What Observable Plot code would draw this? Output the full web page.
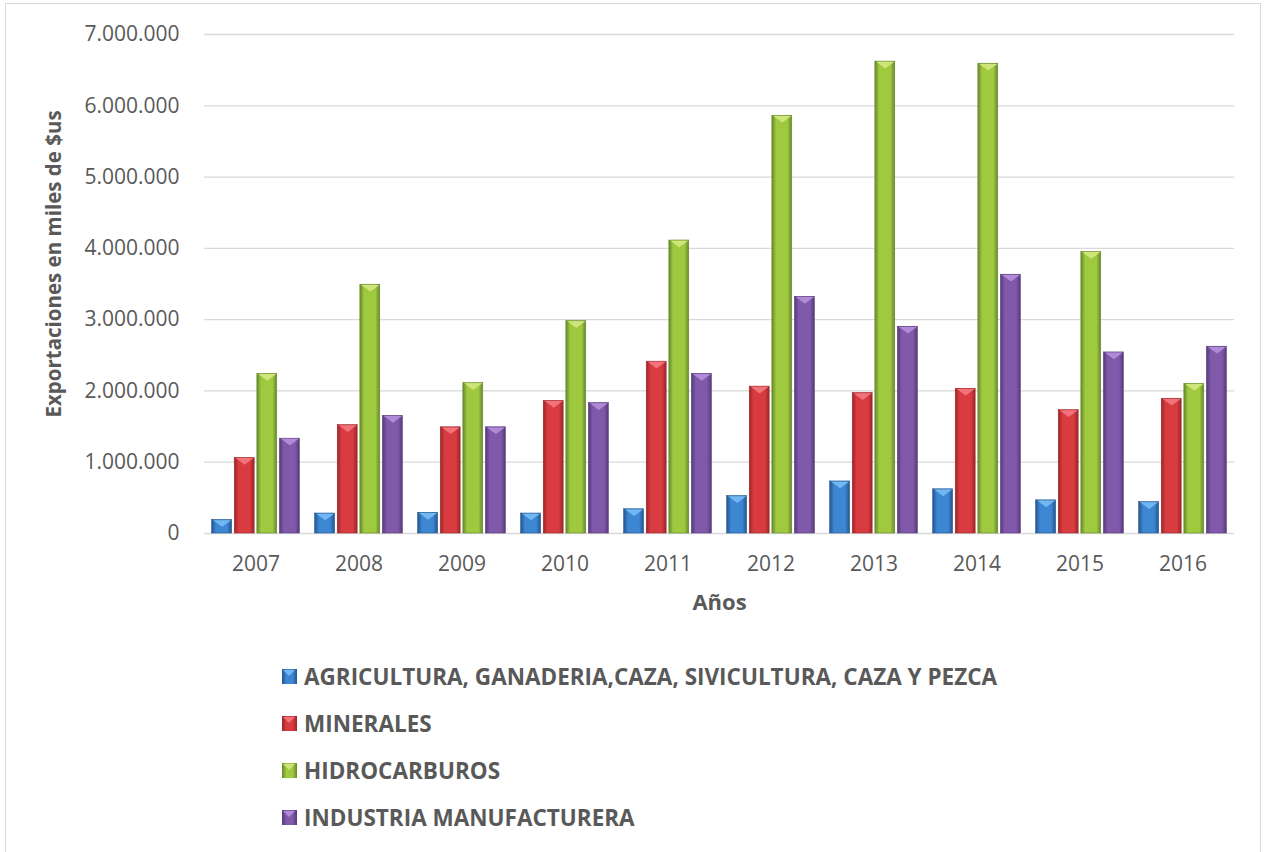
<!DOCTYPE html>
<html>
<head>
<meta charset="utf-8">
<script src="https://cdn.jsdelivr.net/npm/d3@7"></script>
<script src="https://cdn.jsdelivr.net/npm/@observablehq/plot@0.6"></script>
<style>
  body { margin: 0; background: #fff; font-family: "Open Sans", sans-serif; }
  #wrap { position: relative; width: 1267px; height: 852px; overflow: hidden; background: #fff; }
  #frame { position: absolute; left: 5px; top: 3px; width: 1256px; height: 900px; border: 1px solid #d9d9d9; box-sizing: border-box; }
  #chart { position: absolute; left: 0; top: 0; }
  #ytitle { position: absolute; left: 53px; top: 263.5px; transform: translate(-50%, -50%) rotate(-90deg);
            white-space: nowrap; font-weight: bold; font-size: 20.5px; color: #595959; }
  #legend { position: absolute; left: 282px; top: 653px; }
  .row { height: 47px; display: flex; align-items: center; font-weight: bold; font-size: 22.5px; color: #595959; white-space: nowrap; }
  .sw { width: 15px; height: 15px; margin-right: 7px; position: relative; box-sizing: border-box; flex: none; }
  .sw::after { content: ""; position: absolute; left: 1px; top: 1px; width: 0; height: 0;
               border-left: 6.5px solid transparent; border-right: 6.5px solid transparent; border-top: 6px solid var(--tri); }
  svg g[aria-label="fx-axis label"] text { font-weight: bold; font-size: 22px; }
</style>
</head>
<body>
<div id="wrap">
  <div id="frame"></div>
  <div id="chart"></div>
  <div id="ytitle"></div>
  <div id="legend"></div>
</div>
<script>
// ---- data ----
const years = ["2007", "2008", "2009", "2010", "2011", "2012", "2013", "2014", "2015", "2016"];
const series = [
  "AGRICULTURA, GANADERIA,CAZA, SIVICULTURA, CAZA Y PEZCA",
  "MINERALES",
  "HIDROCARBUROS",
  "INDUSTRIA MANUFACTURERA"
];
const agricultura   = [190000, 280000, 290000, 280000, 340000, 525000, 730000, 620000, 465000, 440000];
const minerales     = [1060000, 1520000, 1490000, 1860000, 2410000, 2060000, 1970000, 2030000, 1730000, 1890000];
const hidrocarburos = [2240000, 3490000, 2110000, 2980000, 4110000, 5860000, 6620000, 6590000, 3950000, 2100000];
const industria     = [1330000, 1650000, 1490000, 1830000, 2240000, 3320000, 2900000, 3630000, 2540000, 2620000];
const yTicks = [0, 1000000, 2000000, 3000000, 4000000, 5000000, 6000000, 7000000];
const yTitle = "Exportaciones en miles de $us";
const xTitle = "Años";

// ---- styles ----
const edge  = ["#23558f", "#9a2528", "#66882b", "#553a78"];
const mid   = ["#3d86d2", "#d93c40", "#9fca40", "#8159ab"];
const light = ["#72b6f2", "#f2727a", "#cfe47a", "#b08ad6"];

const values = [agricultura, minerales, hidrocarburos, industria];
const table = years.flatMap((yr, i) => series.map((s, j) => ({year: yr, series: s, value: values[j][i]})));

const fmt = d3.formatLocale({decimal: ",", thousands: ".", grouping: [3], currency: ["$", ""]}).format(",d");

const bevel = {
  draw(context, size) {
    const r = Math.sqrt(size / Math.PI);
    const h = r * 0.74;
    context.moveTo(-r, -h / 2);
    context.lineTo(r, -h / 2);
    context.lineTo(0, h / 2);
    context.closePath();
  }
};

const marks = [
  Plot.gridY(yTicks, {stroke: "#d9d9d9", strokeOpacity: 1, strokeWidth: 1.3}),
  Plot.axisY(yTicks, {tickSize: 0, tickPadding: 25, tickFormat: fmt, label: null}),
  Plot.axisFx({anchor: "bottom", tickSize: 0, tickPadding: 23, label: xTitle, labelAnchor: "center", labelOffset: 76})
];
series.forEach((s, j) => {
  const d = table.filter(r => r.series === s);
  marks.push(Plot.barY(d, {fx: "year", x: "series", y: "value", fill: `url(#grad${j})`, stroke: edge[j], strokeWidth: 0.6}));
  marks.push(Plot.dot(d, {fx: "year", x: "series", y: "value", symbol: bevel, r: 9, fill: light[j], stroke: "none", dy: 3.5}));
});

const chart = Plot.plot({
  width: 1267,
  height: 625,
  marginLeft: 200,
  marginRight: 30,
  marginTop: 34,
  marginBottom: 92,
  style: {fontFamily: "'Open Sans', sans-serif", fontSize: "21px", color: "#595959", background: "transparent"},
  fx: {domain: years, padding: 0, label: xTitle},
  x: {domain: series, paddingInner: 0.12, paddingOuter: 0.34, axis: null, round: false},
  y: {domain: [0, 7000000], ticks: yTicks, label: null},
  marks
});

const svg = d3.select(chart);
const defs = svg.insert("defs", ":first-child");
[0, 1, 2, 3].forEach(j => {
  const lg = defs.append("linearGradient").attr("id", `grad${j}`).attr("x1", 0).attr("x2", 1).attr("y1", 0).attr("y2", 0);
  lg.append("stop").attr("offset", "0%").attr("stop-color", edge[j]);
  lg.append("stop").attr("offset", "22%").attr("stop-color", mid[j]);
  lg.append("stop").attr("offset", "50%").attr("stop-color", mid[j]);
  lg.append("stop").attr("offset", "78%").attr("stop-color", mid[j]);
  lg.append("stop").attr("offset", "100%").attr("stop-color", edge[j]);
});
document.getElementById("chart").appendChild(chart);

document.getElementById("ytitle").textContent = yTitle;

const legend = document.getElementById("legend");
series.forEach((s, j) => {
  const row = document.createElement("div");
  row.className = "row";
  const sw = document.createElement("span");
  sw.className = "sw";
  sw.style.background = `linear-gradient(to right, ${edge[j]}, ${mid[j]} 30%, ${mid[j]} 70%, ${edge[j]})`;
  sw.style.setProperty("--tri", light[j]);
  const t = document.createElement("span");
  t.textContent = s;
  row.appendChild(sw);
  row.appendChild(t);
  legend.appendChild(row);
});
</script>
</body>
</html>
